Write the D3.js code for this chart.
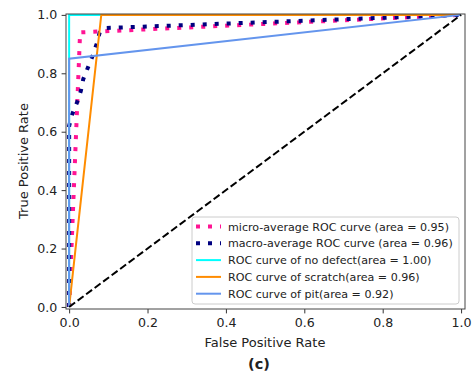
<!DOCTYPE html>
<meta charset="utf-8">
<style>
body { margin:0; background:#fff; }
text { font-family: "DejaVu Sans", sans-serif; fill:#222; }
</style>
<body>
<div id="chart"></div>
<script src="https://d3js.org/d3.v7.min.js"></script>
<script>
// curves: [fpr, tpr]
var microAvg = [[0, 0], [0.028, 0.94], [1, 1]];
var macroAvg = [[0, 0], [0, 0.62], [0.008, 0.66], [0.02, 0.70], [0.03, 0.74], [0.036, 0.78],
                [0.048, 0.82], [0.06, 0.86], [0.07, 0.90], [0.078, 0.94], [0.095, 0.955], [1, 1]];
var noDefect = [[0, 0], [0, 1], [1, 1]];
var scratch  = [[0, 0], [0.082, 1], [1, 1]];
var pit      = [[0, 0], [0, 0.85], [1, 1]];
var diagonal = [[0, 0], [1, 1]];

var labels = ["micro-average ROC curve (area = 0.95)",
              "macro-average ROC curve (area = 0.96)",
              "ROC curve of no defect(area = 1.00)",
              "ROC curve of scratch(area = 0.96)",
              "ROC curve of pit(area = 0.92)"];
var ticks = [0, 0.2, 0.4, 0.6, 0.8, 1.0];

var width = 476, height = 377, fs = 12.6;
var svg = d3.select("#chart").append("svg")
    .attr("width", width).attr("height", height);

var x = d3.scaleLinear().domain([-0.008, 1.01]).range([66, 465]);
var y = d3.scaleLinear().domain([-0.007, 1.003]).range([309, 14]);

var line = d3.line().x(function(d){ return x(d[0]); }).y(function(d){ return y(d[1]); });

var series = [
  {data: microAvg, color: "#ff1493", w: 4, dash: "4,8"},
  {data: macroAvg, color: "#000080", w: 4, dash: "4,8"},
  {data: noDefect, color: "#00ffff", w: 2, dash: null},
  {data: scratch,  color: "#ff8c00", w: 2, dash: null},
  {data: pit,      color: "#6495ed", w: 2, dash: null}
];

svg.append("clipPath").attr("id", "clip").append("rect")
  .attr("x", 66).attr("y", 14).attr("width", 399).attr("height", 295);

var plot = svg.append("g").attr("clip-path", "url(#clip)");
series.forEach(function(s){
  plot.append("path").datum(s.data)
    .attr("d", line).attr("fill", "none")
    .attr("stroke", s.color).attr("stroke-width", s.w)
    .attr("stroke-dasharray", s.dash);
});
plot.append("path").datum(diagonal)
  .attr("d", line).attr("fill", "none")
  .attr("stroke", "#000").attr("stroke-width", 2)
  .attr("stroke-dasharray", "7.4,3.2");

// axes
var xAxis = svg.append("g").attr("transform", "translate(0,309)")
  .call(d3.axisBottom(x).tickValues(ticks).tickFormat(d3.format(".1f")).tickSize(4.4).tickPadding(4.4));
var yAxis = svg.append("g").attr("transform", "translate(66,0)")
  .call(d3.axisLeft(y).tickValues(ticks).tickFormat(d3.format(".1f")).tickSize(4.4).tickPadding(4.4));
[xAxis, yAxis].forEach(function(a){
  a.select(".domain").remove();
  a.selectAll("text").attr("font-size", fs).attr("font-family", "DejaVu Sans").attr("fill", "#222");
  a.selectAll("line").attr("stroke", "#333");
});
svg.append("rect").attr("x", 66).attr("y", 14).attr("width", 399).attr("height", 295)
  .attr("fill", "none").attr("stroke", "#444").attr("stroke-width", 1);

svg.append("text").attr("x", 265).attr("y", 346.5).attr("text-anchor", "middle")
  .attr("font-size", 13).text("False Positive Rate");
svg.append("text").attr("transform", "translate(27.5,161) rotate(-90)").attr("text-anchor", "middle")
  .attr("font-size", 13).text("True Positive Rate");
svg.append("text").attr("x", 259).attr("y", 368.5).attr("text-anchor", "middle")
  .attr("font-size", 14.5).attr("font-weight", "bold").attr("fill", "#000").text("(c)");

// legend
var lg = svg.append("g").attr("transform", "translate(192,217)");
lg.append("rect").attr("width", 267).attr("height", 87).attr("rx", 3)
  .attr("fill", "#fff").attr("fill-opacity", 0.85).attr("stroke", "#ccc");
series.forEach(function(s, i){
  var yy = 9.5 + i * 16.8;
  lg.append("line").attr("x1", 4).attr("x2", 29).attr("y1", yy).attr("y2", yy)
    .attr("stroke", s.color).attr("stroke-width", s.w).attr("stroke-dasharray", s.dash);
  lg.append("text").attr("x", 36).attr("y", yy + 4).attr("font-size", 11.1).text(labels[i]);
});
</script>
</body>
